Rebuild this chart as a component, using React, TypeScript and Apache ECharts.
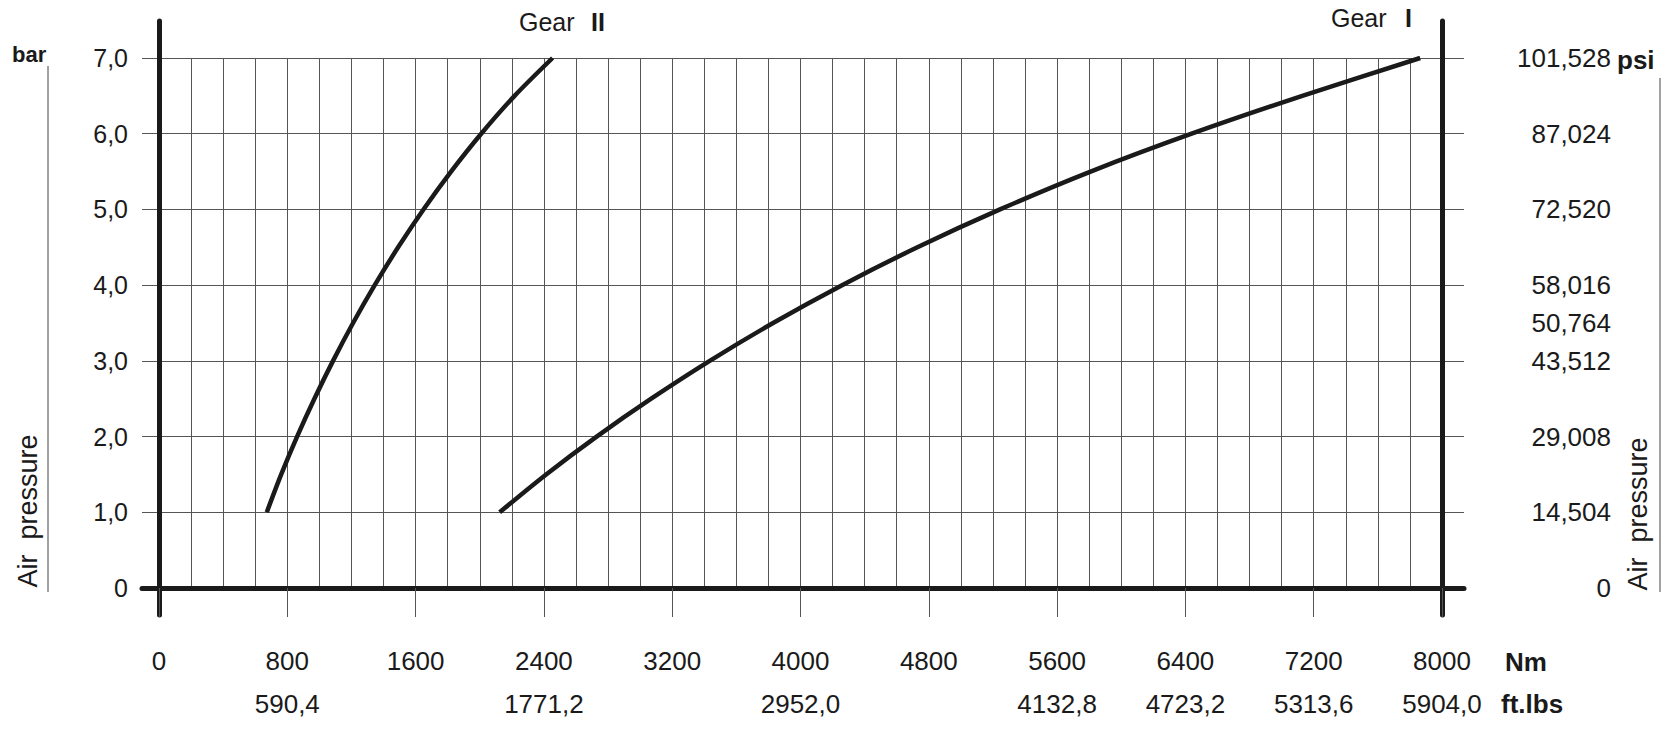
import React, { useEffect, useRef } from "react";
import * as echarts from "echarts";

// ---- data ----
const nmTicks = [0, 800, 1600, 2400, 3200, 4000, 4800, 5600, 6400, 7200, 8000];
const ftLbsTicks = [800, 2400, 4000, 5600, 6400, 7200, 8000];
const ftLbsLabels = ["590,4", "1771,2", "2952,0", "4132,8", "4723,2", "5313,6", "5904,0"];
const barTicks = [0, 1, 2, 3, 4, 5, 6, 7];
const barLabels = ["0", "1,0", "2,0", "3,0", "4,0", "5,0", "6,0", "7,0"];
const psiTicks = [0, 1, 2, 3, 3.5, 4, 5, 6, 7];
const psiLabels = ["0", "14,504", "29,008", "43,512", "50,764", "58,016", "72,520", "87,024", "101,528"];

const curvePressure = [1, 1.5, 2, 2.5, 3, 3.5, 4, 4.5, 5, 5.5, 6, 6.5, 7];
const gear2Torque = [672, 762, 861, 969, 1085, 1210, 1345, 1491, 1649, 1821, 2009, 2217, 2454];
const gear1Torque = [2124, 2414, 2729, 3069, 3434, 3829, 4259, 4729, 5244, 5809, 6439, 7129, 7864];

const FONT = '"Liberation Sans", Arial, Helvetica, sans-serif';
const INK = "#1a1a1a";
const GRIDC = "#555555";

export default function App() {
  const ref = useRef<HTMLDivElement>(null);

  useEffect(() => {
    if (!ref.current) return;
    const chart = echarts.init(ref.current, undefined, { renderer: "svg" });

    const hiddenAxis = {
      axisLine: { show: false },
      axisTick: { show: false },
      axisLabel: { show: false },
      splitLine: { show: false },
    };

    const txt = (text: string, x: number, y: number, size: number, bold: boolean, extra: any = {}) => ({
      type: "text",
      x,
      y,
      ...extra,
      style: {
        text,
        fontSize: size,
        fontWeight: bold ? "bold" : "normal",
        fontFamily: FONT,
        fill: INK,
        align: extra.center ? "center" : "left",
        textAlign: extra.center ? "center" : "left",
        verticalAlign: "middle",
        textVerticalAlign: "middle",
      },
    });

    const option: any = {
      animation: false,
      backgroundColor: "#ffffff",
      textStyle: { fontFamily: FONT, color: INK },
      grid: [
        { left: 159, right: 219, top: 58, bottom: 144, outerBoundsMode: "none", containLabel: false },
        { left: 142, right: 197, top: 58, bottom: 144, outerBoundsMode: "none", containLabel: false },
        { left: 159, right: 219, top: 21, bottom: 117, outerBoundsMode: "none", containLabel: false },
      ],
      xAxis: [
        {
          gridIndex: 0, type: "value", min: 0, max: 8000, interval: 200, position: "bottom",
          ...hiddenAxis,
          splitLine: { show: true, lineStyle: { color: GRIDC, width: 1 } },
        },
        {
          gridIndex: 0, type: "value", min: 0, max: 8000, interval: 800, position: "bottom", offset: 0,
          axisLine: { show: false, onZero: false },
          axisTick: { show: true, length: 29, lineStyle: { color: GRIDC, width: 1 } },
          splitLine: { show: false },
          axisLabel: {
            show: true, margin: 60, fontSize: 26, lineHeight: 26, color: INK, fontFamily: FONT,
            formatter: (v: number) => (nmTicks.indexOf(v) >= 0 ? String(v) : ""),
          },
        },
        {
          gridIndex: 0, type: "value", min: 0, max: 8000, interval: 800, position: "bottom", offset: 0,
          axisLine: { show: false, onZero: false },
          axisTick: { show: false },
          splitLine: { show: false },
          axisLabel: {
            show: true, margin: 103, fontSize: 26, lineHeight: 26, color: INK, fontFamily: FONT,
            formatter: (v: number) => {
              const i = ftLbsTicks.indexOf(v);
              return i >= 0 ? ftLbsLabels[i] : "";
            },
          },
        },
        {
          gridIndex: 1, type: "value", min: 0, max: 1, position: "bottom",
          ...hiddenAxis,
          axisLine: { show: true, onZero: false, lineStyle: { color: INK, width: 5 } },
        },
        { gridIndex: 2, type: "value", min: 0, max: 1, show: false },
      ],
      yAxis: [
        {
          gridIndex: 0, type: "value", min: 0, max: 7, interval: 1, position: "left",
          axisLine: { show: false, onZero: false },
          axisTick: { show: false },
          splitLine: { show: false },
          axisLabel: {
            show: true, margin: 31, fontSize: 25, color: INK, fontFamily: FONT,
            formatter: (v: number) => {
              const i = barTicks.indexOf(v);
              return i >= 0 ? barLabels[i] : "";
            },
          },
        },
        {
          gridIndex: 0, type: "value", min: 0, max: 7, interval: 0.5, position: "right",
          axisLine: { show: false, onZero: false },
          axisTick: { show: false },
          splitLine: { show: false },
          axisLabel: {
            show: true, margin: 169, align: "right", fontSize: 26, color: INK, fontFamily: FONT,
            formatter: (v: number) => {
              const i = psiTicks.indexOf(v);
              return i >= 0 ? psiLabels[i] : "";
            },
          },
        },
        {
          gridIndex: 1, type: "value", min: 0, max: 7, interval: 1, position: "left",
          ...hiddenAxis,
          splitLine: { show: true, lineStyle: { color: GRIDC, width: 1 } },
        },
        {
          gridIndex: 2, type: "value", min: 0, max: 1, position: "left",
          ...hiddenAxis,
          axisLine: { show: true, onZero: false, lineStyle: { color: INK, width: 5 } },
        },
        {
          gridIndex: 2, type: "value", min: 0, max: 1, position: "right",
          ...hiddenAxis,
          axisLine: { show: true, onZero: false, lineStyle: { color: INK, width: 5 } },
        },
      ],
      series: [
        {
          name: "Gear II", type: "line", xAxisIndex: 0, yAxisIndex: 0,
          data: gear2Torque.map((t, i) => [t, curvePressure[i]]),
          smooth: 0.3, showSymbol: false, symbol: "none", z: 5,
          lineStyle: { color: INK, width: 4.5, cap: "butt" },
        },
        {
          name: "Gear I", type: "line", xAxisIndex: 0, yAxisIndex: 0,
          data: gear1Torque.map((t, i) => [t, curvePressure[i]]),
          smooth: 0.3, showSymbol: false, symbol: "none", z: 5,
          lineStyle: { color: INK, width: 4.5, cap: "butt" },
        },
      ],
      graphic: [
        txt("bar", 12, 54, 22, true),
        txt("psi", 1617, 60, 26, true),
        txt("Nm", 1505, 662, 26, true),
        txt("ft.lbs", 1501, 704, 26, true),
        txt("Gear", 519, 22, 25, false),
        txt("II", 591, 22, 25, true),
        txt("Gear", 1331, 18, 25, false),
        txt("I", 1405, 18, 25, true),
        txt("Air  pressure", 28, 511, 27, false, { rotation: Math.PI / 2, center: true }),
        txt("Air  pressure", 1638, 514, 27, false, { rotation: Math.PI / 2, center: true }),
        {
          type: "line", shape: { x1: 48, y1: 66, x2: 48, y2: 592 },
          style: { stroke: "#444", lineWidth: 1 },
        },
        {
          type: "line", shape: { x1: 1660, y1: 78, x2: 1660, y2: 592 },
          style: { stroke: "#444", lineWidth: 1 },
        },
      ],
    };

    chart.setOption(option);
    return () => chart.dispose();
  }, []);

  return (
    <div
      ref={ref}
      style={{ position: "absolute", left: 0, top: 0, width: 1661, height: 732, background: "#fff" }}
    />
  );
}
